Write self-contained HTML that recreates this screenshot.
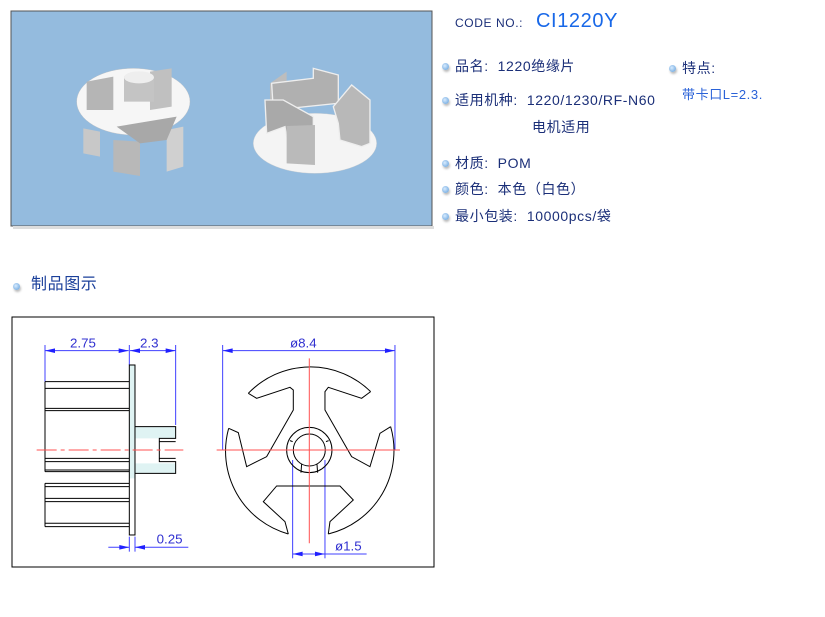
<!DOCTYPE html>
<html><head><meta charset="utf-8"><style>
body{margin:0;width:825px;height:617px;background:#fff;position:relative;overflow:hidden;font-family:"Liberation Sans","Noto Sans CJK SC",sans-serif}
.t{position:absolute;white-space:nowrap;color:#1b2f78;font-size:14px;line-height:16px;letter-spacing:0.6px}
.b{position:absolute;width:7px;height:7px;border-radius:50%;background:radial-gradient(circle at 40% 40%,#d8ecff,#5a9ad8);box-shadow:1px 2px 2px #bbb}
</style></head><body>
<svg width="825" height="617" style="position:absolute;left:0;top:0">
<rect x="11" y="11" width="421" height="215" fill="#94bbde" stroke="#555" stroke-width="1"/>
<rect x="13" y="226" width="421" height="3" fill="#ddd"/>
<g transform="scale(0.3333)">
 <!-- left part -->
 <polygon points="250,385 300,395 300,470 250,460" fill="#c8c8c8"/>
 <polygon points="340,420 420,425 420,528 340,515" fill="#b8b8b8"/>
 <polygon points="500,390 550,380 550,500 500,515" fill="#d0d0d0"/>
 <ellipse cx="400" cy="305" rx="170" ry="100" fill="#f6f6f6" stroke="#bbb"/>
 <polygon points="350,380 530,350 500,420 420,430" fill="#a8a8a8"/>
 <polygon points="260,245 340,230 340,330 260,330" fill="#b5b5b5"/>
 <polygon points="450,215 515,205 515,320 450,330" fill="#c0c0c0"/>
 <rect x="372" y="230" width="90" height="75" fill="#c4c4c4"/>
 <ellipse cx="417" cy="232" rx="45" ry="18" fill="#eee"/>
 <!-- right part -->
 <ellipse cx="945" cy="430" rx="185" ry="90" fill="#f4f4f4" stroke="#ccc"/>
 <polygon points="810,250 860,215 860,300 810,320" fill="#bdbdbd"/>
 <polygon points="815,250 940,235 940,205 1015,225 1015,310 820,330" fill="#b0b0b0" stroke="#eee" stroke-width="4"/>
 <polygon points="795,300 850,300 940,350 940,420 860,410 855,380 800,400" fill="#a9a9a9" stroke="#eee" stroke-width="4"/>
 <polygon points="860,378 945,375 945,495 860,490" fill="#bababa"/>
 <polygon points="1000,320 1055,255 1110,300 1110,430 1085,440 1020,420 1015,370" fill="#b8b8b8" stroke="#eee" stroke-width="4"/>
</g>
<rect x="12" y="317" width="422" height="250" fill="#fff" stroke="#000" stroke-width="1"/>
<g transform="translate(0,310) scale(0.3333)" fill="none" stroke-width="3">
 <g stroke="#4040ff">
  <line x1="135" y1="105" x2="135" y2="215"/><line x1="388" y1="105" x2="388" y2="165"/><line x1="527" y1="105" x2="527" y2="345"/>
  <line x1="135" y1="122" x2="386" y2="122"/><line x1="390" y1="122" x2="527" y2="122"/>
  <line x1="388" y1="680" x2="388" y2="725"/><line x1="405" y1="680" x2="405" y2="725"/>
  <line x1="325" y1="712" x2="388" y2="712"/><line x1="405" y1="712" x2="565" y2="712"/>
  <line x1="668" y1="105" x2="668" y2="420"/><line x1="1185" y1="105" x2="1185" y2="420"/>
  <line x1="668" y1="122" x2="1185" y2="122"/>
  <line x1="878" y1="450" x2="878" y2="745"/><line x1="975" y1="450" x2="975" y2="745"/>
  <line x1="878" y1="732" x2="1100" y2="732"/>
 </g>
 <g fill="#2020ff">
  <polygon points="135,122 165,115 165,129"/><polygon points="386,122 356,115 356,129"/>
  <polygon points="390,122 420,115 420,129"/><polygon points="527,122 497,115 497,129"/>
  <polygon points="388,712 358,705 358,719"/><polygon points="405,712 435,705 435,719"/>
  <polygon points="668,122 698,115 698,129"/><polygon points="1185,122 1155,115 1155,129"/>
  <polygon points="878,732 908,725 908,739"/><polygon points="975,732 945,725 945,739"/>
 </g>
 <polygon points="388,165 405,165 405,350 527,350 527,385 405,385 405,460 527,460 527,490 405,490 405,505 388,505" fill="#dff3f3" stroke="none"/>
 <g stroke="#000">
  <rect x="388" y="165" width="17" height="510"/>
  <line x1="135" y1="215" x2="388" y2="215"/><line x1="135" y1="485" x2="388" y2="485"/><line x1="135" y1="215" x2="135" y2="485"/>
  <line x1="135" y1="235" x2="388" y2="235"/><line x1="135" y1="295" x2="388" y2="295"/><line x1="135" y1="302" x2="388" y2="302"/>
  <line x1="135" y1="445" x2="388" y2="445"/><line x1="135" y1="455" x2="388" y2="455"/><line x1="135" y1="480" x2="388" y2="480"/>
  <line x1="135" y1="520" x2="388" y2="520"/><line x1="135" y1="650" x2="388" y2="650"/><line x1="135" y1="520" x2="135" y2="650"/>
  <line x1="135" y1="530" x2="388" y2="530"/><line x1="135" y1="565" x2="388" y2="565"/><line x1="135" y1="575" x2="388" y2="575"/><line x1="135" y1="640" x2="388" y2="640"/>
  <polyline points="405,350 527,350 527,385 478,385 478,455 527,455 527,490 405,490"/>
  <line x1="478" y1="395" x2="527" y2="395"/><line x1="478" y1="445" x2="527" y2="445"/>
  <path d="M745,250 A258,258 0 0 1 1112,245"/>
  <path d="M686,355 A258,258 0 0 0 865,672"/>
  <path d="M1172,350 A258,258 0 0 1 985,672"/>
  <polyline points="686,355 715,368 740,470 800,440 880,300 880,240 870,232 770,265 745,250"/>
  <polyline points="1112,245 1085,265 985,232 975,245 975,300 1055,440 1110,470 1140,370 1172,350"/>
  <polyline points="865,672 855,635 790,575 830,528 1020,528 1060,570 990,635 985,672"/>
  <circle cx="928" cy="420" r="68"/><circle cx="928" cy="420" r="48"/>
  <line x1="878" y1="395" x2="870" y2="392"/><line x1="978" y1="395" x2="986" y2="392"/>
  <line x1="905" y1="462" x2="903" y2="488"/><line x1="951" y1="462" x2="953" y2="488"/>
 </g>
 <g stroke="#ff5050" stroke-width="3">
  <line x1="110" y1="420" x2="550" y2="420" stroke-dasharray="60,12,12,12"/>
  <line x1="650" y1="420" x2="1200" y2="420"/><line x1="928" y1="145" x2="928" y2="700"/>
 </g>
 <g fill="#3030d0" stroke="none" font-family="Liberation Sans,sans-serif" font-size="40">
  <text x="210" y="112">2.75</text><text x="420" y="112">2.3</text><text x="470" y="700">0.25</text>
  <text x="870" y="112">ø8.4</text><text x="1005" y="722">ø1.5</text>
 </g>
</g>
</svg>
<div class="t" style="left:455px;top:15px;font-size:12px">CODE NO.:</div>
<div class="t" style="left:536px;top:9px;font-size:20px;line-height:24px;color:#1868e8">CI1220Y</div>
<div class="b" style="left:442px;top:63px"></div><div class="t" style="left:455px;top:58px">品名:&nbsp; 1220绝缘片</div>
<div class="b" style="left:442px;top:97px"></div><div class="t" style="left:455px;top:92px">适用机种:&nbsp; 1220/1230/RF-N60</div>
<div class="t" style="left:532px;top:119px">电机适用</div>
<div class="b" style="left:442px;top:160px"></div><div class="t" style="left:455px;top:155px">材质:&nbsp; POM</div>
<div class="b" style="left:442px;top:186px"></div><div class="t" style="left:455px;top:181px">颜色:&nbsp; 本色（白色）</div>
<div class="b" style="left:442px;top:213px"></div><div class="t" style="left:455px;top:208px">最小包装:&nbsp; 10000pcs/袋</div>
<div class="b" style="left:669px;top:65px"></div><div class="t" style="left:682px;top:60px">特点:</div>
<div class="t" style="left:682px;top:87px;color:#2a62d8;font-size:13px">带卡口L=2.3.</div>
<div class="b" style="left:13px;top:283px"></div><div class="t" style="left:31px;top:276px;font-size:16px;line-height:18px;color:#1a3f9a">制品图示</div>
</body></html>
